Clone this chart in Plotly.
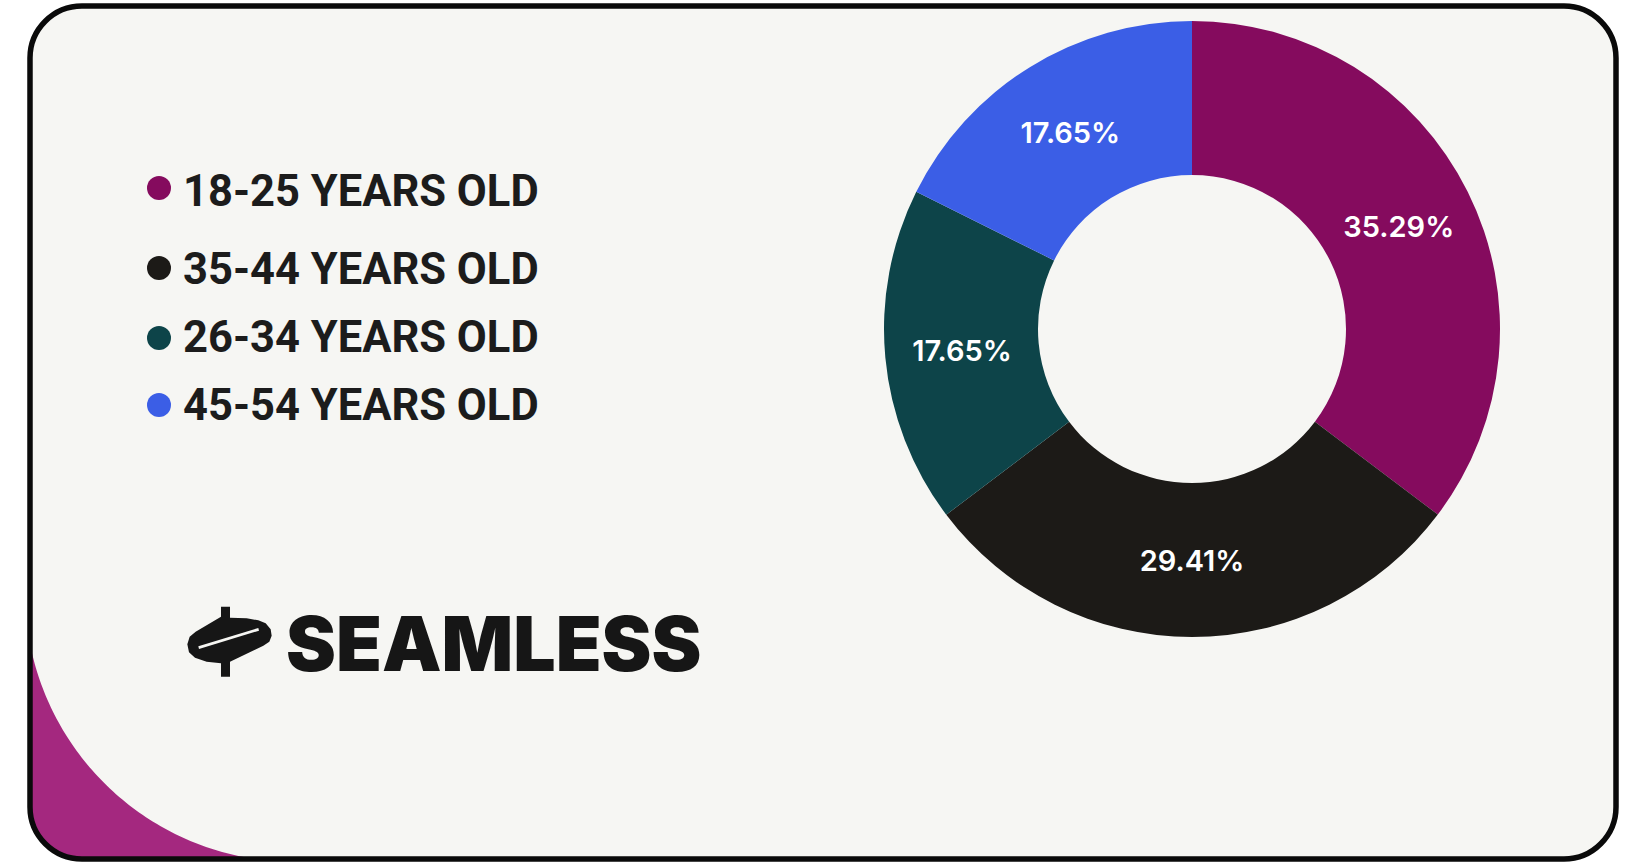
import numpy as np
import plotly.graph_objects as go

W, H = 1629, 865

# ---- data ----
age_groups = ["18-25 YEARS OLD", "35-44 YEARS OLD", "26-34 YEARS OLD", "45-54 YEARS OLD"]
shares = [35.29, 29.41, 17.65, 17.65]
slice_colors = ["#850b5e", "#1c1a17", "#0d4449", "#3b5ee6"]
brand = "SEAMLESS"


def px(x, y):
    return x / W, 1 - y / H


def pstr(x, y):
    a, b = px(x, y)
    return f"{a:.6f},{b:.6f}"


def rounded_rect_path(x0, y0, x1, y1, r):
    k = 0.5523 * r
    p = [
        f"M{pstr(x0 + r, y0)}",
        f"L{pstr(x1 - r, y0)}",
        f"C{pstr(x1 - r + k, y0)} {pstr(x1, y0 + r - k)} {pstr(x1, y0 + r)}",
        f"L{pstr(x1, y1 - r)}",
        f"C{pstr(x1, y1 - r + k)} {pstr(x1 - r + k, y1)} {pstr(x1 - r, y1)}",
        f"L{pstr(x0 + r, y1)}",
        f"C{pstr(x0 + r - k, y1)} {pstr(x0, y1 - r + k)} {pstr(x0, y1 - r)}",
        f"L{pstr(x0, y0 + r)}",
        f"C{pstr(x0, y0 + r - k)} {pstr(x0 + r - k, y0)} {pstr(x0 + r, y0)}",
        "Z",
    ]
    return " ".join(p)


FX0, FY0, FX1, FY1, FR = 30, 6, 1616, 859, 52

shapes = []
# card background
shapes.append(dict(type="path", xref="paper", yref="paper", layer="below",
                   path=rounded_rect_path(FX0, FY0, FX1, FY1, FR),
                   fillcolor="#f6f6f3", line=dict(width=0)))

# purple corner decoration (outside a large circle)
cx, cy, R = 295, 592, 270
y_left = cy + np.sqrt(R**2 - (cx - FX0) ** 2)
x_bot = cx - np.sqrt(R**2 - (FY1 - cy) ** 2)
a0 = np.arctan2(FY1 - cy, x_bot - cx)
a1 = np.arctan2(y_left - cy, FX0 - cx)
angs = np.linspace(a0, a1, 80)
k = 0.5523 * FR
seg = [f"M{pstr(FX0, y_left)}", f"L{pstr(FX0, FY1 - FR)}",
       f"C{pstr(FX0, FY1 - FR + k)} {pstr(FX0 + FR - k, FY1)} {pstr(FX0 + FR, FY1)}",
       f"L{pstr(x_bot, FY1)}"]
for a in angs:
    seg.append(f"L{pstr(cx + R*np.cos(a), cy + R*np.sin(a))}")
seg.append("Z")
shapes.append(dict(type="path", xref="paper", yref="paper", layer="below",
                   path=" ".join(seg), fillcolor="#a4287f", line=dict(width=0)))

# card border
shapes.append(dict(type="path", xref="paper", yref="paper", layer="above",
                   path=rounded_rect_path(FX0, FY0, FX1, FY1, FR),
                   fillcolor="rgba(0,0,0,0)", line=dict(color="#0a0a0a", width=5.5)))

# logo icon
ox, oy, s = 175, 595, 1 / 3
icon = [(138, 35), (165, 35), (165, 68), (215, 70), (250, 76), (272, 85), (287, 103),
        (290, 122), (283, 140), (265, 152), (165, 200), (165, 245), (138, 245),
        (138, 205), (95, 200), (60, 188), (42, 172), (37, 148), (44, 125), (62, 110),
        (138, 65)]
ipath = "M" + " L".join(pstr(ox + a * s, oy + b * s) for a, b in icon) + " Z"
shapes.append(dict(type="path", xref="paper", yref="paper", path=ipath,
                   fillcolor="#161616", line=dict(width=0)))
slot = [(70, 154), (250, 99), (252, 107), (72, 162)]
spath = "M" + " L".join(pstr(ox + a * s, oy + b * s) for a, b in slot) + " Z"
shapes.append(dict(type="path", xref="paper", yref="paper", path=spath,
                   fillcolor="#f6f6f3", line=dict(width=0)))

# legend
leg_dot_y = [188, 268, 338, 405]
leg_text_y = [191, 270, 337, 405]
dot_x, dot_r = 159, 12
annotations = []
for lbl, col, dy, ty in zip(age_groups, slice_colors, leg_dot_y, leg_text_y):
    x0, y0 = px(dot_x - dot_r, dy - dot_r)
    x1, y1 = px(dot_x + dot_r, dy + dot_r)
    shapes.append(dict(type="circle", xref="paper", yref="paper",
                       x0=x0, x1=x1, y0=y1, y1=y0, fillcolor=col, line=dict(width=0)))
    ax, ay = px(181, ty)
    annotations.append(dict(text=lbl, x=ax, y=ay, xref="paper", yref="paper",
                            xanchor="left", yanchor="middle", showarrow=False,
                            font=dict(family="Roboto", size=43.5, color="#1c1c1c", weight=700)))

bx, by = px(284, 643)
annotations.append(dict(text=brand, x=bx, y=by, xref="paper", yref="paper",
                        xanchor="left", yanchor="middle", showarrow=False,
                        font=dict(family="Inter", size=75, color="#161616", weight=900)))

# donut
pcx, pcy, pr = 1192, 329, 308
dx0, dy0 = px(pcx - pr, pcy + pr)
dx1, dy1 = px(pcx + pr, pcy - pr)

fig = go.Figure(go.Pie(
    labels=age_groups, values=shares, hole=0.5, sort=False, direction="clockwise",
    marker=dict(colors=slice_colors, line=dict(width=0)),
    texttemplate="%{value:.2f}%", textposition="inside",
    insidetextorientation="horizontal",
    textfont=dict(family="Inter", size=29, color="#ffffff", weight=600),
    domain=dict(x=[dx0, dx1], y=[dy0, dy1]),
    showlegend=False, hoverinfo="label+value",
))

fig.update_layout(
    width=W, height=H, margin=dict(l=0, r=0, t=0, b=0),
    paper_bgcolor="#ffffff", plot_bgcolor="#ffffff",
    shapes=shapes, annotations=annotations, showlegend=False,
)

fig.write_html("out.html")
